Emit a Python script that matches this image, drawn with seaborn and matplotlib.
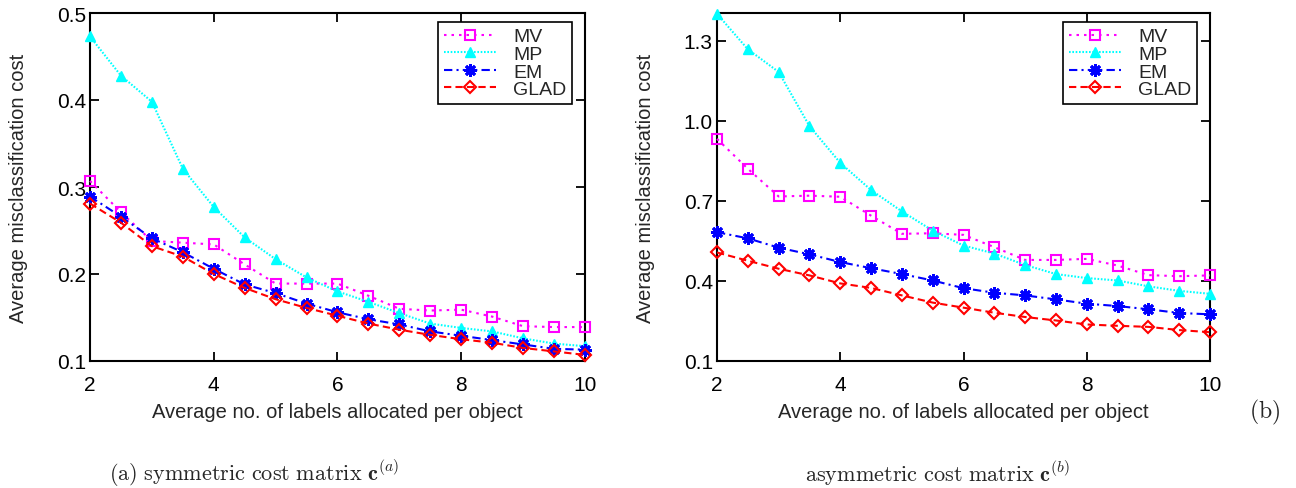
import numpy as np
import pandas as pd
import matplotlib
matplotlib.use("Agg")
import matplotlib.pyplot as plt
import seaborn as sns

# ---------------- data ----------------
x_vals = [2, 2.5, 3, 3.5, 4, 4.5, 5, 5.5, 6, 6.5, 7, 7.5, 8, 8.5, 9, 9.5, 10]
methods = ["MV", "MP", "EM", "GLAD"]

# panel (a): symmetric cost matrix
a_mv = [0.307, 0.271, 0.238, 0.236, 0.234, 0.211, 0.189, 0.189, 0.189, 0.175, 0.160, 0.158, 0.159, 0.151, 0.140, 0.139, 0.139]
a_mp = [0.473, 0.428, 0.398, 0.321, 0.277, 0.242, 0.217, 0.196, 0.180, 0.168, 0.155, 0.143, 0.138, 0.134, 0.126, 0.120, 0.117]
a_em = [0.289, 0.266, 0.241, 0.225, 0.206, 0.188, 0.178, 0.166, 0.156, 0.148, 0.142, 0.134, 0.129, 0.124, 0.119, 0.114, 0.113]
a_glad = [0.281, 0.259, 0.232, 0.220, 0.200, 0.184, 0.171, 0.161, 0.152, 0.143, 0.136, 0.130, 0.125, 0.121, 0.115, 0.111, 0.107]

# panel (b): asymmetric cost matrix
b_mv = [0.933, 0.821, 0.717, 0.720, 0.716, 0.645, 0.577, 0.579, 0.573, 0.527, 0.479, 0.479, 0.483, 0.458, 0.422, 0.418, 0.421]
b_mp = [1.402, 1.269, 1.184, 0.981, 0.843, 0.741, 0.661, 0.589, 0.533, 0.503, 0.460, 0.426, 0.411, 0.402, 0.380, 0.363, 0.352]
b_em = [0.583, 0.560, 0.525, 0.500, 0.471, 0.448, 0.426, 0.402, 0.373, 0.356, 0.346, 0.331, 0.315, 0.306, 0.294, 0.280, 0.275]
b_glad = [0.507, 0.476, 0.446, 0.421, 0.391, 0.374, 0.346, 0.319, 0.300, 0.281, 0.265, 0.252, 0.237, 0.232, 0.228, 0.216, 0.208]

a_yticks = [0.1, 0.2, 0.3, 0.4, 0.5]
a_yticklabels = ["0.1", "0.2", "0.3", "0.4", "0.5"]
b_yticks = [0.1, 0.4, 0.7, 1.0, 1.3]
b_yticklabels = ["0.1", "0.4", "0.7", "1.0", "1.3"]
x_ticks = [2, 4, 6, 8, 10]
x_ticklabels = ["2", "4", "6", "8", "10"]

xlabel = "Average no. of labels allocated per object"
ylabel = "Average misclassification cost"
caption_a = r"$\mathrm{(a)\ symmetric\ cost\ matrix}\ \mathbf{c}^{(a)}$"
caption_b = r"$\mathrm{asymmetric\ cost\ matrix}\ \mathbf{c}^{(b)}$"
tag_b = r"$\mathrm{(b)}$"

# ---------------- style ----------------
sns.set_theme(style="ticks")
plt.rcParams["font.family"] = ["Liberation Sans", "DejaVu Sans"]
plt.rcParams["mathtext.fontset"] = "cm"

styles = {
    "MV":   dict(color="#ff00ff", marker="s", mfc="none", ms=7, mew=1.5, ls=(0, (1.2, 2.4))),
    "MP":   dict(color="#00ffff", marker="^", mfc="#00ffff", ms=7, mew=1.0, ls=(0, (0.8, 0.8))),
    "EM":   dict(color="#0000ff", marker=(8, 2, 0), mfc="#0000ff", ms=9, mew=2.0, ls=(0, (4, 2, 1, 2))),
    "GLAD": dict(color="#ff0000", marker="D", mfc="none", ms=6.5, mew=1.5, ls=(0, (3.5, 2))),
}

fig = plt.figure(figsize=(12.96, 4.89), dpi=100)
ax_a = fig.add_axes([90 / 1296, 1 - 362 / 489, 495 / 1296, 348 / 489])
ax_b = fig.add_axes([717 / 1296, 1 - 362 / 489, 493 / 1296, 348 / 489])

panels = [
    (ax_a, [a_mv, a_mp, a_em, a_glad], (0.1, 0.5), a_yticks, a_yticklabels, -0.125),
    (ax_b, [b_mv, b_mp, b_em, b_glad], (0.1, 1.405), b_yticks, b_yticklabels, -0.126),
]

for ax, series, ylim, yt, ytl, ylab_x in panels:
    for name, vals in zip(methods, series):
        st = styles[name]
        df = pd.DataFrame({"x": x_vals, "y": vals})
        sns.lineplot(data=df, x="x", y="y", ax=ax, color=st["color"], label=name,
                     marker=st["marker"], markerfacecolor=st["mfc"], markeredgecolor=st["color"],
                     markersize=st["ms"], markeredgewidth=st["mew"], linewidth=1.5,
                     linestyle=st["ls"], clip_on=False, zorder=3)
    ax.set_xlim(2, 10)
    ax.set_ylim(*ylim)
    ax.set_xticks(x_ticks)
    ax.set_xticklabels(x_ticklabels)
    ax.set_yticks(yt)
    ax.set_yticklabels(ytl)
    ax.tick_params(axis="both", direction="in", length=6.5, width=1.3, colors="black",
                   top=True, right=True, labelsize=15)
    ax.tick_params(axis="x", pad=10)
    ax.tick_params(axis="y", pad=3)
    for sp in ax.spines.values():
        sp.set_visible(True)
        sp.set_linewidth(1.5)
        sp.set_color("black")
    ax.set_xlabel(xlabel, fontsize=14.5)
    ax.xaxis.set_label_coords(0.5, -0.118)
    ax.set_ylabel(ylabel, fontsize=14.5)
    ax.yaxis.set_label_coords(ylab_x, 0.5)
    leg = ax.legend(loc="upper right", bbox_to_anchor=(1 - 13 / 495, 1 - 9 / 348),
                    borderaxespad=0, fontsize=14, frameon=True, fancybox=False,
                    edgecolor="black", framealpha=1, handlelength=2.7, handletextpad=0.85,
                    labelspacing=0.0, borderpad=0.3, numpoints=1)
    leg.get_frame().set_linewidth(1.2)

fig.text(254 / 1296, 1 - 474 / 489, caption_a, ha="center", va="center", fontsize=16)
fig.text(937 / 1296, 1 - 474 / 489, caption_b, ha="center", va="center", fontsize=16)
fig.text(1265 / 1296, 1 - 412 / 489, tag_b, ha="center", va="center", fontsize=17)

fig.savefig("out.png", dpi=100)
